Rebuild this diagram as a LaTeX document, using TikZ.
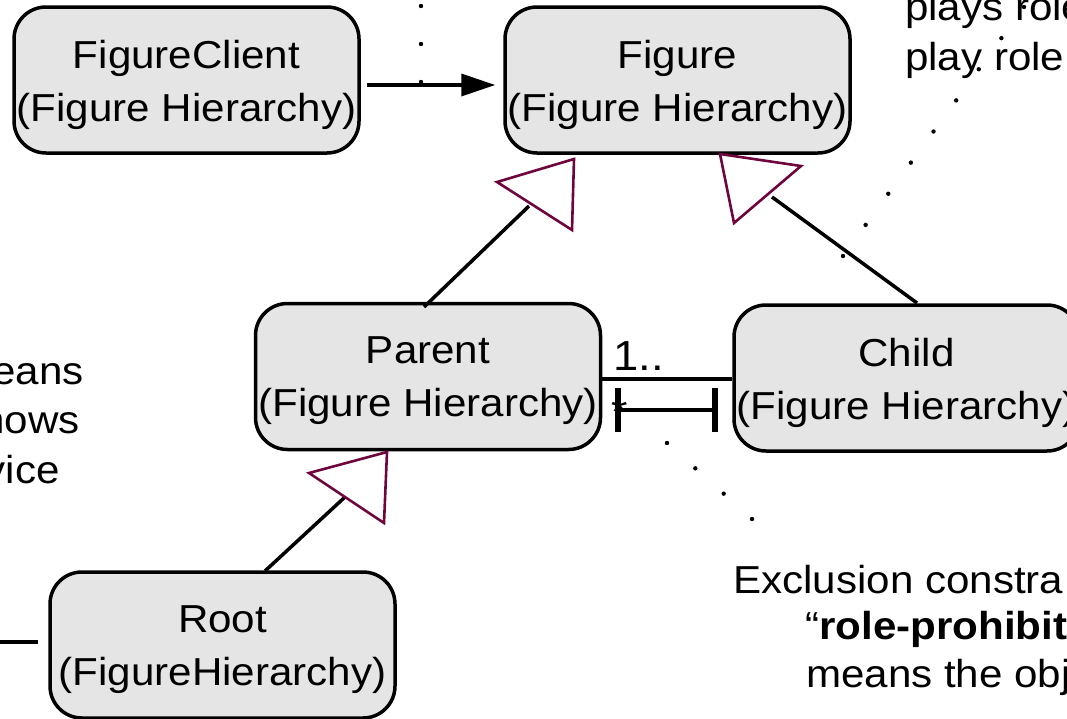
\documentclass[tikz,border=0pt]{standalone}
\usepackage{fontspec}
\setmainfont{Liberation Sans}[FakeStretch=1.08]
\usetikzlibrary{arrows.meta,calc}
\definecolor{boxfill}{RGB}{229,229,229}
\definecolor{genline}{RGB}{110,5,60}

\begin{document}
\begin{tikzpicture}[x=1pt,y=-1pt,
  cls/.style={draw=black, line width=3.5pt, fill=boxfill, rounded corners=32pt,
              minimum width=345pt, minimum height=146pt, inner sep=0pt},
  clstext/.style={align=center, inner sep=0pt, font=\fontsize{39}{53}\selectfont},
  note/.style={inner sep=0pt, font=\fontsize{39}{47}\selectfont},
  mult/.style={inner sep=0pt, font=\fontsize{42}{50}\selectfont},
  link/.style={line width=3.5pt},
  gentri/.style={draw=genline, line width=2.6pt, line join=miter},
  bar/.style={line width=5.5pt}]

\useasboundingbox (0,0) rectangle (1067,718);
\clip (0,0) rectangle (1067,718);

% class boxes
\node[cls] (cl)   at (186.5,80)  {};
\node[cls] (fig)  at (677.5,80)  {};
\node[cls] (par)  at (428,376.5) {};
\node[cls] (chd)  at (906.5,378) {};
\node[cls] (root) at (222.5,645) {};

\node[clstext] (cl-t)   at (186.5,84.5)  {FigureClient\\(Figure Hierarchy)};
\node[clstext] (fig-t)  at (677.5,84.5)  {Figure\\(Figure Hierarchy)};
\node[clstext] (par-t)  at (428,381)     {Parent\\(Figure Hierarchy)};
\node[clstext] (chd-t)  at (906.5,382.5) {Child\\(Figure Hierarchy)};
\node[clstext] (root-t) at (222.5,649.5) {Root\\(FigureHierarchy)};

% navigable association FigureClient -> Figure
\draw[link, -{Triangle[length=34pt,width=22pt]}, shorten <=6pt, shorten >=8pt]
  ([yshift=-5pt]cl.east) -- ([yshift=-5pt]fig.west);

% generalisations (line plus detached hollow triangle)
\coordinate (g1a) at (424,307); \coordinate (g1b) at (529,206);
\draw[link] (g1a) -- (g1b);
\draw[gentri] (497,182) -- (574,159) -- (572,230) -- cycle;

\coordinate (g2a) at (917,303); \coordinate (g2b) at (772,197);
\draw[link] (g2a) -- (g2b);
\draw[gentri] (720,154) -- (801,166) -- (734,223) -- cycle;

\coordinate (g3a) at (265,571); \coordinate (g3b) at (345,497);
\draw[link] (g3a) -- (g3b);
\draw[gentri] (309,473) -- (387,452) -- (384,523) -- cycle;

% association Parent -- Child
\draw[link] (par.east |- 0,379) -- (chd.west |- 0,379);
\node[mult, anchor=base west] (mult1) at (613,370) {1..};
\node[note, anchor=base west] (mult2) at (611,425) {*};

% exclusion constraint
\coordinate (exl) at (618,410); \coordinate (exr) at (715,410);
\draw[line width=4pt] (exl) -- (exr);
\draw[bar] (618,388) -- (618,432);
\draw[bar] (715,388) -- (715,432);

% stub towards Root
\coordinate (stub) at (0,642);
\draw[link] (stub) -- (38,642);

% dotted annotation lines
\coordinate (d1a) at (421,6);    \coordinate (d1b) at (421,82);
\coordinate (d2a) at (1024,7);   \coordinate (d2b) at (843,256);
\coordinate (d3a) at (667,443);  \coordinate (d3b) at (752,519);
\foreach \i in {0,1,2} \fill ($(d1a)!\i/2!(d1b)$) circle (2.2);
\foreach \i in {0,...,8} \fill ($(d2a)!\i/8!(d2b)$) circle (2.2);
\foreach \i in {0,...,3} \fill ($(d3a)!\i/3!(d3b)$) circle (2.2);

% notes
\node[note, anchor=base west] (n1a) at (905,20) {plays role};
\node[note, anchor=base west] (n1b) at (905,70) {play role};

\node[note, anchor=base east] (n2a) at (84,384) {eans};
\node[note, anchor=base east] (n2b) at (80,433) {nows};
\node[note, anchor=base east] (n2c) at (60,483) {vice};

\node[note, anchor=base west] (n3a) at (733,593) {Exclusion constra};
\node[note, anchor=base west] (n3b) at (805,639) {“\textbf{role-prohibit}};
\node[note, anchor=base west] (n3c) at (806,687) {means the obj};
\end{tikzpicture}
\end{document}
